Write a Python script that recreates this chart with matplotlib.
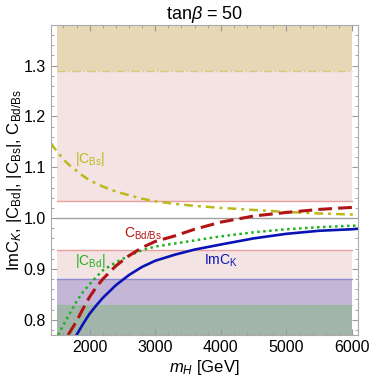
import matplotlib
matplotlib.use("Agg")
import matplotlib.pyplot as plt
from matplotlib.ticker import MultipleLocator

plt.rcParams['font.family'] = ['Liberation Sans', 'DejaVu Sans']
plt.rcParams['mathtext.fontset'] = 'custom'
plt.rcParams['mathtext.rm'] = 'Liberation Sans'
plt.rcParams['mathtext.it'] = 'Liberation Sans:italic'

# |C_Bs| (dash-dot)
m_bs = [1410, 1500, 1600, 1700, 1800, 1900, 2000, 2200, 2400, 2600, 2800,
        3000, 3300, 3600, 4000, 4500, 5000, 5500, 6000, 6090]
c_bs = [1.147, 1.131, 1.115, 1.103, 1.093, 1.083, 1.074, 1.062, 1.052,
        1.045, 1.038, 1.033, 1.028, 1.024, 1.020, 1.016, 1.012, 1.009,
        1.007, 1.007]

# C_Bd/Bs (dashed)
m_ratio = [1670, 1700, 1800, 1900, 2000, 2100, 2200, 2400, 2600, 2800, 3000,
           3300, 3600, 4000, 4500, 5000, 5500, 6000, 6090]
c_ratio = [0.770, 0.776, 0.797, 0.822, 0.845, 0.864, 0.880, 0.906, 0.926,
           0.942, 0.954, 0.965, 0.978, 0.992, 1.004, 1.011, 1.017, 1.021,
           1.022]

# |C_Bd| (dotted)
m_bd = [1520, 1600, 1700, 1800, 1900, 2000, 2100, 2200, 2400, 2600, 2800,
        3000, 3300, 3600, 4000, 4500, 5000, 5500, 6000, 6090]
c_bd = [0.770, 0.790, 0.813, 0.836, 0.855, 0.870, 0.884, 0.897, 0.913,
        0.926, 0.937, 0.944, 0.950, 0.956, 0.964, 0.972, 0.978, 0.982,
        0.985, 0.985]

# ImC_K (solid)
m_k = [1800, 1900, 2000, 2100, 2200, 2400, 2600, 2800, 3000, 3300, 3600,
       4000, 4500, 5000, 5500, 6000, 6090]
c_k = [0.770, 0.792, 0.812, 0.828, 0.843, 0.868, 0.888, 0.904, 0.916,
       0.928, 0.938, 0.948, 0.960, 0.969, 0.975, 0.978, 0.979]

# excluded regions
band_x = [1500, 6000]
bs_upper = 1.29
ratio_upper = 1.033
ratio_lower = 0.938
k_lower = 0.88
bd_lower = 0.83
ymin, ymax = 0.77, 1.38

fig = plt.figure(figsize=(3.72, 3.82), dpi=100)
ax = fig.add_axes([0.137, 0.123, 0.825, 0.812])

ax.fill_between(band_x, ratio_upper, ymax, color='#f4e3e3', lw=0)
ax.fill_between(band_x, ymin, ratio_lower, color='#f4e3e3', lw=0)
ax.fill_between(band_x, bs_upper, ymax, color='#e6d7b5', lw=0)
ax.fill_between(band_x, ymin, k_lower, color='#c4b6d7', lw=0)
ax.fill_between(band_x, ymin, bd_lower, color='#a2b5aa', lw=0)

ax.plot(band_x, [1.0, 1.0], color='#a0a0a0', lw=1)
ax.plot(band_x, [ratio_upper] * 2, color='#e6a0a0', lw=1)
ax.plot(band_x, [ratio_lower] * 2, color='#e6a0a0', lw=1)
ax.plot(band_x, [bs_upper] * 2, color='#d8c880', lw=1, ls='-.')
ax.plot(band_x, [k_lower] * 2, color='#8c8cd2', lw=1)
ax.plot(band_x, [bd_lower] * 2, color='#90c090', lw=1, ls=':')

ax.plot(m_bs, c_bs, color='#bdb81a', lw=1.8, dashes=(3.5, 2, 1.2, 2))
ax.plot(m_bd, c_bd, color='#1fb21f', lw=1.8, dashes=(1, 1.4))
ax.plot(m_ratio, c_ratio, color='#b01414', lw=2.2, dashes=(4.5, 2))
ax.plot(m_k, c_k, color='#0a14b4', lw=1.9)

ax.text(2004, 1.116, r'|C$_{\rm Bs}$|', color='#bdb81a', fontsize=10,
        ha='center', va='center')
ax.text(2812, 0.970, r'C$_{\rm Bd/Bs}$', color='#b01414', fontsize=10,
        ha='center', va='center')
ax.text(2005, 0.915, r'|C$_{\rm Bd}$|', color='#1fb21f', fontsize=10,
        ha='center', va='center')
ax.text(4002, 0.915, r'ImC$_{\rm K}$', color='#0a14b4', fontsize=10,
        ha='center', va='center')

ax.set_xlim(1410, 6090)
ax.set_ylim(ymin, ymax)
ax.xaxis.set_major_locator(MultipleLocator(1000))
ax.xaxis.set_minor_locator(MultipleLocator(200))
ax.yaxis.set_major_locator(MultipleLocator(0.1))
ax.yaxis.set_minor_locator(MultipleLocator(0.02))
ax.tick_params(which='both', direction='in', top=True, right=True,
               color='#999999', labelsize=11.5)
ax.tick_params(which='major', length=4)
ax.tick_params(which='minor', length=2)
for s in ax.spines.values():
    s.set_color('#aaaaaa')

ax.set_xlabel(r'$m_H$ [GeV]', fontsize=12, labelpad=2)
ax.set_ylabel(r'ImC$_K$, |C$_{\rm Bd}$|, |C$_{\rm Bs}$|, C$_{\rm Bd/Bs}$',
              fontsize=12, labelpad=0)
ax.set_title(r'tan$\beta$ = 50', fontsize=13, pad=4)

fig.savefig('out.png', dpi=100)
